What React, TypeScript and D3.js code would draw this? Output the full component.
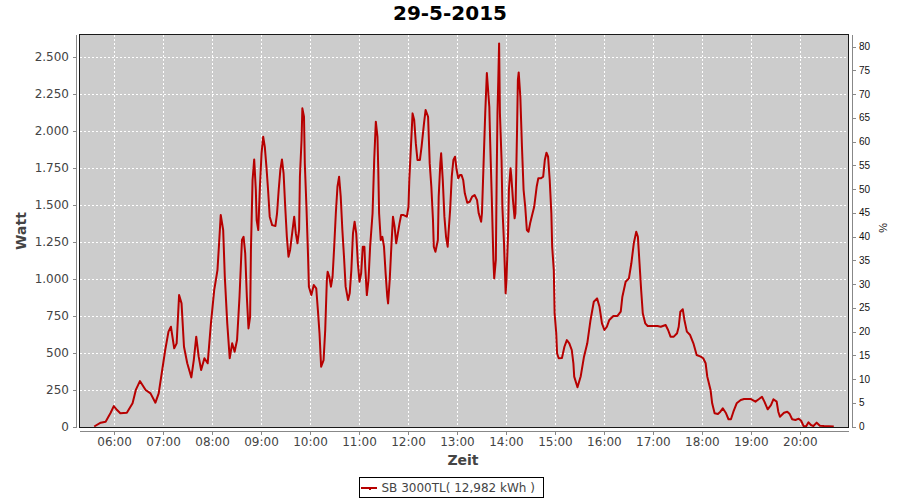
import React from "react";
import * as d3 from "d3";

const TITLE = "29-5-2015";
const Y_LABEL = "Watt";
const Y2_LABEL = "%";
const X_LABEL = "Zeit";
const SERIES_NAME = "SB 3000TL( 12,982 kWh )";

const X_DOMAIN = ["05:17", "20:59"];
const Y_MAX = 2649;
const Y2_MAX = 82.53;

const X_TICKS = ["06:00", "07:00", "08:00", "09:00", "10:00", "11:00", "12:00", "13:00", "14:00", "15:00", "16:00", "17:00", "18:00", "19:00", "20:00"];
const Y_TICKS = [0, 250, 500, 750, 1000, 1250, 1500, 1750, 2000, 2250, 2500];
const Y2_TICKS = [0, 5, 10, 15, 20, 25, 30, 35, 40, 45, 50, 55, 60, 65, 70, 75, 80];

const TIMES = [
  "05:35", "05:43", "05:49", "05:55", "05:59", "06:03", "06:07", "06:15", "06:22", "06:26",
  "06:31", "06:38", "06:44", "06:50", "06:54", "06:58", "07:02", "07:06", "07:09", "07:13",
  "07:16", "07:19", "07:22", "07:25", "07:29", "07:34", "07:37", "07:40", "07:43", "07:46",
  "07:50", "07:54", "07:58", "08:02", "08:06", "08:08", "08:10", "08:13", "08:15", "08:18",
  "08:21", "08:24", "08:27", "08:30", "08:33", "08:36", "08:38", "08:40", "08:42", "08:44",
  "08:46", "08:47", "08:49", "08:51", "08:53", "08:54", "08:56", "08:58", "09:00", "09:02",
  "09:04", "09:06", "09:08", "09:10", "09:13", "09:17", "09:19", "09:21", "09:23", "09:25",
  "09:27", "09:29", "09:31", "09:33", "09:35", "09:38", "09:40", "09:42", "09:44", "09:46",
  "09:47", "09:49", "09:50", "09:52", "09:53", "09:55", "09:57", "09:58", "10:01", "10:04",
  "10:07", "10:09", "10:11", "10:13", "10:16", "10:18", "10:20", "10:21", "10:23", "10:25",
  "10:27", "10:29", "10:31", "10:33", "10:35", "10:37", "10:39", "10:41", "10:43", "10:46",
  "10:48", "10:50", "10:52", "10:54", "10:56", "10:58", "11:00", "11:02", "11:04", "11:06",
  "11:07", "11:09", "11:11", "11:13", "11:16", "11:18", "11:20", "11:22", "11:23", "11:24",
  "11:26", "11:28", "11:30", "11:32", "11:34", "11:35", "11:37", "11:39", "11:41", "11:43",
  "11:45", "11:47", "11:49", "11:51", "11:54", "11:58", "12:00", "12:01", "12:03", "12:05",
  "12:07", "12:09", "12:11", "12:14", "12:16", "12:19", "12:21", "12:24", "12:26", "12:28",
  "12:30", "12:31", "12:33", "12:36", "12:37", "12:39", "12:40", "12:42", "12:44", "12:46",
  "12:48", "12:49", "12:51", "12:53", "12:55", "12:57", "12:59", "13:01", "13:03", "13:05",
  "13:07", "13:09", "13:12", "13:15", "13:18", "13:21", "13:24", "13:26", "13:29", "13:30",
  "13:32", "13:34", "13:36", "13:39", "13:40", "13:42", "13:44", "13:45", "13:47", "13:48",
  "13:49", "13:50", "13:51", "13:52", "13:54", "13:55", "13:57", "13:59", "14:00", "14:02",
  "14:03", "14:05", "14:06", "14:08", "14:10", "14:11", "14:13", "14:14", "14:15", "14:17",
  "14:19", "14:21", "14:23", "14:25", "14:27", "14:29", "14:32", "14:34", "14:37", "14:39",
  "14:42", "14:45", "14:47", "14:49", "14:51", "14:53", "14:55", "14:56", "14:58", "14:59",
  "15:01", "15:02", "15:04", "15:08", "15:11", "15:14", "15:17", "15:20", "15:22", "15:23",
  "15:27", "15:31", "15:35", "15:39", "15:43", "15:47", "15:51", "15:54", "15:57", "16:00",
  "16:03", "16:06", "16:11", "16:16", "16:20", "16:22", "16:26", "16:30", "16:33", "16:36",
  "16:39", "16:41", "16:43", "16:45", "16:47", "16:50", "16:53", "16:58", "17:05", "17:09",
  "17:15", "17:18", "17:21", "17:25", "17:29", "17:31", "17:33", "17:36", "17:38", "17:41",
  "17:45", "17:49", "17:53", "17:58", "18:01", "18:04", "18:06", "18:10", "18:12", "18:15",
  "18:19", "18:22", "18:25", "18:29", "18:32", "18:35", "18:38", "18:42", "18:47", "18:51",
  "18:59", "19:05", "19:09", "19:13", "19:16", "19:20", "19:24", "19:27", "19:31", "19:33",
  "19:35", "19:40", "19:44", "19:47", "19:50", "19:54", "19:58", "20:01", "20:04", "20:07",
  "20:10", "20:13", "20:16", "20:20", "20:24", "20:29", "20:41"
];

const WATT = [
  0, 26, 32, 91, 138, 111, 89, 93, 157, 247,
  307, 247, 224, 161, 224, 370, 517, 641, 674, 528,
  562, 888, 832, 539, 427, 332, 449, 607, 472, 382,
  461, 427, 697, 922, 1057, 1238, 1429, 1328, 1012, 697,
  461, 562, 505, 584, 877, 1260, 1282, 1170, 877, 663,
  742, 1193, 1666, 1805, 1598, 1395, 1328, 1620, 1846, 1958,
  1890, 1755, 1598, 1418, 1361, 1355, 1441, 1598, 1733, 1805,
  1711, 1485, 1282, 1147, 1193, 1328, 1418, 1305, 1238, 1328,
  1688, 1936, 2150, 2093, 1778, 1485, 1147, 945, 888, 956,
  934, 787, 630, 404, 449, 652, 990, 1046, 1012, 945,
  1012, 1215, 1441, 1620, 1688, 1553, 1328, 1147, 945, 855,
  900, 1057, 1305, 1384, 1305, 1103, 978, 1035, 1215, 1215,
  1080, 888, 990, 1215, 1441, 1801, 2060, 1958, 1733, 1441,
  1260, 1282, 1215, 1035, 877, 832, 990, 1215, 1418, 1350,
  1238, 1305, 1373, 1429, 1429, 1418, 1485, 1666, 1890, 2116,
  2071, 1913, 1801, 1801, 1890, 2049, 2139, 2093, 1778, 1620,
  1395, 1215, 1181, 1260, 1553, 1778, 1846, 1666, 1418, 1282,
  1215, 1305, 1463, 1688, 1801, 1823, 1733, 1677, 1699, 1699,
  1666, 1576, 1512, 1519, 1553, 1564, 1530, 1441, 1384, 1441,
  1778, 2116, 2388, 2161, 1936, 1553, 1125, 1001, 1125, 1666,
  2116, 2341, 2589, 2116, 1801, 1485, 1238, 900, 990, 1305,
  1598, 1745, 1688, 1530, 1407, 1441, 2003, 2341, 2393, 2229,
  1890, 1598, 1485, 1328, 1316, 1373, 1441, 1485, 1620, 1677,
  1677, 1688, 1801, 1850, 1823, 1666, 1441, 1215, 1057, 765,
  630, 495, 461, 463, 539, 584, 562, 517, 427, 337,
  265, 340, 472, 562, 720, 843, 866, 809, 697, 652,
  674, 720, 747, 747, 776, 877, 978, 1001, 1103, 1238,
  1316, 1282, 1103, 922, 765, 697, 679, 679, 679, 674,
  686, 652, 607, 607, 630, 674, 776, 792, 720, 641,
  618, 562, 483, 472, 461, 427, 337, 247, 157, 89,
  84, 100, 123, 89, 49, 49, 100, 157, 179, 186,
  186, 168, 184, 201, 168, 116, 145, 184, 168, 100,
  66, 93, 100, 84, 49, 44, 53, 39, 3, 0,
  28, 10, 3, 26, 5, 3, 0
];

const toMin = (s: string) => {
  const [h, m] = s.split(":").map(Number);
  return h * 60 + m;
};

const de = d3.formatLocale({ decimal: ",", thousands: ".", grouping: [3], currency: ["", "€"] });
const fmt = de.format(",d");

const FONT = "'DejaVu Sans', sans-serif";
const LINE_COLOR = "#b70000";
const TEXT_GRAY = "#444444";

export default function App() {
  const W = 900, H = 500;
  const left = 79.5, right = 848.5, top = 34.5, bottom = 426.5;

  const x = d3.scaleLinear().domain(X_DOMAIN.map(toMin)).range([left, right]);
  const y = d3.scaleLinear().domain([0, Y_MAX]).range([bottom, top]);
  const y2 = d3.scaleLinear().domain([0, Y2_MAX]).range([bottom, top]);

  const data = TIMES.map((t, i) => ({ t: toMin(t), v: WATT[i] }));
  const line = d3.line<{ t: number; v: number }>().x(d => x(d.t)).y(d => y(d.v));

  const axisLeftX = 76.5;
  const axisBottomY = 431.5;
  const axisRightX = 852.5;

  return (
    <svg width={W} height={H} style={{ position: "absolute", left: 0, top: 0, display: "block", background: "#fff" }}>
      <rect x={0} y={0} width={W} height={H} fill="#ffffff" />
      <text x={450} y={20} textAnchor="middle" fontFamily={FONT} fontWeight="bold" fontSize={20} fill="#000">{TITLE}</text>

      {/* plot background */}
      <rect x={left} y={top} width={right - left} height={427 - top} fill="#cccccc" />

      {/* grid */}
      <g stroke="#ffffff" strokeWidth={1} strokeDasharray="2,2" shapeRendering="crispEdges">
        {Y_TICKS.map(t => (
          <line key={"gy" + t} x1={left} x2={right} y1={Math.round(y(t)) + 0.5} y2={Math.round(y(t)) + 0.5} />
        ))}
        {X_TICKS.map(t => (
          <line key={"gx" + t} x1={Math.floor(x(toMin(t))) + 0.5} x2={Math.floor(x(toMin(t))) + 0.5} y1={top} y2={427} />
        ))}
      </g>

      {/* series */}
      <path d={line(data) || ""} fill="none" stroke={LINE_COLOR} strokeWidth={2} strokeLinejoin="round" />

      {/* plot border */}
      <rect x={left} y={top} width={right - left} height={427 - top} fill="none" stroke="#1a1a1a" strokeWidth={1} shapeRendering="crispEdges" />

      {/* left axis */}
      <g shapeRendering="crispEdges" stroke="#888888">
        <line x1={axisLeftX} x2={axisLeftX} y1={top} y2={427.5} />
        {Y_TICKS.map(t => (
          <line key={"ty" + t} x1={axisLeftX - 4} x2={axisLeftX} y1={Math.round(y(t)) + 0.5} y2={Math.round(y(t)) + 0.5} />
        ))}
      </g>
      {Y_TICKS.map(t => (
        <text key={"ly" + t} x={69} y={y(t) + 4.5} textAnchor="end" fontFamily={FONT} fontSize={12} fill={TEXT_GRAY}>{fmt(t)}</text>
      ))}
      <text transform={`translate(26,231) rotate(-90)`} textAnchor="middle" fontFamily={FONT} fontWeight="bold" fontSize={14} fill={TEXT_GRAY}>{Y_LABEL}</text>

      {/* right axis */}
      <g shapeRendering="crispEdges" stroke="#888888">
        <line x1={axisRightX} x2={axisRightX} y1={top} y2={427.5} />
        {Y2_TICKS.map(t => (
          <line key={"ty2" + t} x1={axisRightX} x2={axisRightX + 3} y1={Math.round(y2(t)) + 0.5} y2={Math.round(y2(t)) + 0.5} />
        ))}
      </g>
      {Y2_TICKS.map(t => (
        <text key={"ly2" + t} x={859} y={y2(t) + 3.7} textAnchor="start" fontFamily="'Liberation Sans', sans-serif" fontSize={10} fill="#111">{t}</text>
      ))}
      <text transform={`translate(879,228) rotate(90)`} textAnchor="middle" fontFamily="'Liberation Sans', sans-serif" fontSize={11} fill="#111">{Y2_LABEL}</text>

      {/* bottom axis */}
      <g shapeRendering="crispEdges" stroke="#888888">
        <line x1={left} x2={right} y1={axisBottomY} y2={axisBottomY} />
        {X_TICKS.map(t => (
          <line key={"tx" + t} x1={Math.floor(x(toMin(t))) + 0.5} x2={Math.floor(x(toMin(t))) + 0.5} y1={axisBottomY} y2={axisBottomY + 3} />
        ))}
      </g>
      {X_TICKS.map(t => (
        <text key={"lx" + t} x={x(toMin(t))} y={446} textAnchor="middle" fontFamily={FONT} fontSize={12} fill={TEXT_GRAY}>{t}</text>
      ))}
      <text x={463} y={465} textAnchor="middle" fontFamily={FONT} fontWeight="bold" fontSize={14} fill={TEXT_GRAY}>{X_LABEL}</text>

      {/* legend */}
      <rect x={359.5} y={477.5} width={184} height={20} fill="#ffffff" stroke="#000000" strokeWidth={1} shapeRendering="crispEdges" />
      <line x1={361} x2={377} y1={488} y2={488} stroke={LINE_COLOR} strokeWidth={2} />
      <rect x={369} y={488} width={2} height={2} fill={LINE_COLOR} />
      <text x={381.5} y={491.5} fontFamily={FONT} fontSize={12} fill={TEXT_GRAY}>{SERIES_NAME}</text>
    </svg>
  );
}
